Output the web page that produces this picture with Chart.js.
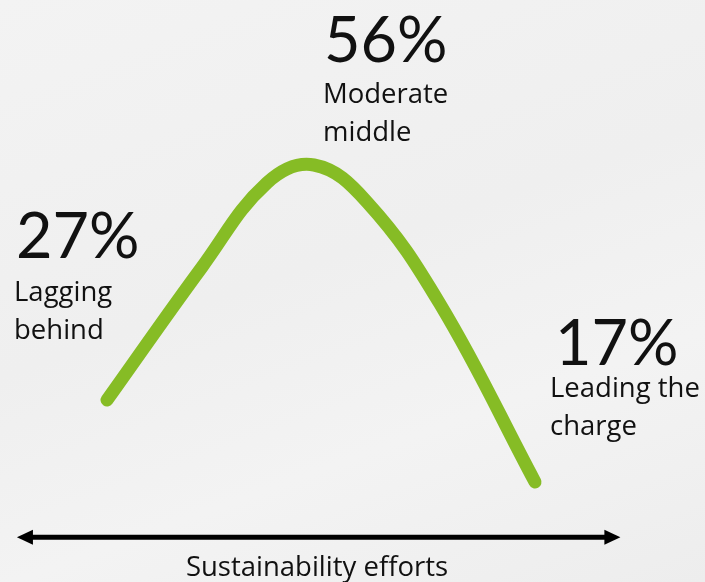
<!DOCTYPE html>
<html>
<head>
<meta charset="utf-8">
<title>Sustainability efforts</title>
<script src="https://cdn.jsdelivr.net/npm/chart.js"></script>
<style>
  html, body { margin: 0; padding: 0; }
  body {
    width: 705px; height: 582px; overflow: hidden;
    background: linear-gradient(160deg, #f3f3f3 0%, #efefef 45%, #f3f3f3 70%, #ededed 100%);
    font-family: "Open Sans", Lato, sans-serif;
    color: #111;
  }
  #wrap { position: relative; width: 705px; height: 582px; }
  #wrap canvas { position: absolute; left: 0; top: 0; }
  .big { position: absolute; font-family: Lato, sans-serif; font-size: 63px; line-height: 1; white-space: nowrap; }
  .small { position: absolute; font-size: 27.5px; line-height: 38px; white-space: nowrap; }
  .axis { position: absolute; left: 0; width: 634px; top: 547px; text-align: center; font-size: 27.5px; line-height: 38px; white-space: nowrap; }
</style>
</head>
<body>
<div id="wrap">
  <canvas id="curve"></canvas>
  <div class="big" style="left:16px; top:202px;">27%</div>
  <div class="small" style="left:14px; top:272px;">Lagging<br>behind</div>
  <div class="big" style="left:324px; top:6px;">56%</div>
  <div class="small" style="left:323px; top:74px;">Moderate<br>middle</div>
  <div class="big" style="left:555px; top:309px;">17%</div>
  <div class="small" style="left:550px; top:368px;">Leading the<br>charge</div>
  <div class="axis">Sustainability efforts</div>
</div>
<script>
// curve: effort position (x) and height of the curve (y)
var effort = [15.18, 28.65, 37.87, 44.54, 52.06, 62.41, 75.89];
var share  = [31.27, 54.12, 68.58, 71.65, 65.29, 47.77, 17.18];

// groups
var groupPct   = ['27%', '56%', '17%'];
var groupNames = ['Lagging behind', 'Moderate middle', 'Leading the charge'];

var points = effort.map(function (x, i) { return { x: x, y: share[i] }; });

// double headed axis arrow under the curve
var axisArrow = {
  id: 'axisArrow',
  afterDatasetsDraw: function (chart) {
    var xs = chart.scales.x, ys = chart.scales.y, ctx = chart.ctx;
    var y = ys.getPixelForValue(7.7);
    var x0 = xs.getPixelForValue(2.4), x1 = xs.getPixelForValue(88.0);
    var head = 16, half = 7.5;
    ctx.save();
    ctx.strokeStyle = '#000';
    ctx.fillStyle = '#000';
    ctx.lineWidth = 5;
    ctx.beginPath();
    ctx.moveTo(x0 + head - 2, y);
    ctx.lineTo(x1 - head + 2, y);
    ctx.stroke();
    ctx.beginPath();
    ctx.moveTo(x0, y);
    ctx.lineTo(x0 + head, y - half);
    ctx.lineTo(x0 + head, y + half);
    ctx.closePath();
    ctx.fill();
    ctx.beginPath();
    ctx.moveTo(x1, y);
    ctx.lineTo(x1 - head, y - half);
    ctx.lineTo(x1 - head, y + half);
    ctx.closePath();
    ctx.fill();
    ctx.restore();
  }
};

new Chart(document.getElementById('curve'), {
  type: 'line',
  data: {
    datasets: [{
      label: 'Sustainability efforts',
      data: points,
      borderColor: '#86bc25',
      borderWidth: 13,
      borderCapStyle: 'round',
      borderJoinStyle: 'round',
      tension: 0.4,
      pointRadius: 0,
      fill: false
    }]
  },
  options: {
    responsive: true,
    maintainAspectRatio: false,
    animation: false,
    layout: { padding: 0 },
    plugins: { legend: { display: false }, tooltip: { enabled: false } },
    scales: {
      x: { type: 'linear', min: 0, max: 100, display: false },
      y: { min: 0, max: 100, display: false }
    }
  },
  plugins: [axisArrow]
});
</script>
</body>
</html>
